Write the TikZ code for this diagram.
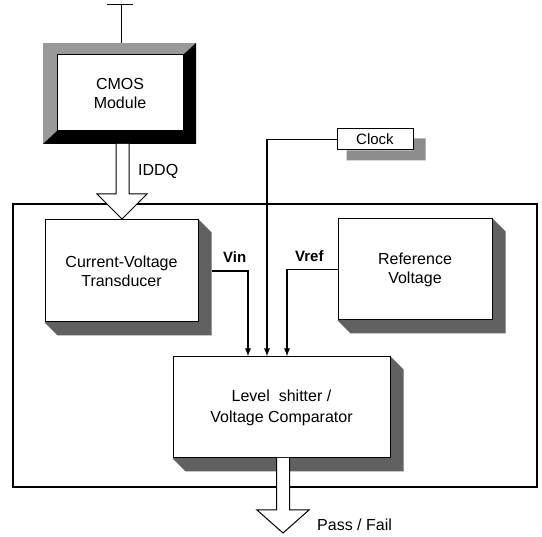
\documentclass[tikz,border=0pt]{standalone}
\usepackage{fontspec}
\setmainfont{Liberation Sans}
\usetikzlibrary{arrows.meta,calc,backgrounds}
\begin{document}
\begin{tikzpicture}[x=1pt,y=-1pt,
  face/.style={draw=black, line width=1pt, fill=white, inner sep=0pt, align=center,
    font=\fontsize{16}{19}\selectfont},
  conn/.style={line width=1.1pt, -{Latex[length=8pt,width=6pt]}},
  lbl/.style={font=\fontsize{15}{18}\selectfont\bfseries, anchor=base west, inner sep=0pt},
  txt/.style={font=\fontsize{16}{19}\selectfont, anchor=base west, inner sep=0pt},
  hollow/.style={draw=black, line width=1pt, fill=white, line join=miter},
  shade3d/.style={fill=black!62},
  frame/.style={draw=black, line width=1.6pt}]
\useasboundingbox (0,0) rectangle (542,537);

% blocks
\node[face, minimum width=126pt, minimum height=76pt] (cmos) at (120,93) {CMOS\\Module};
\node[face, minimum width=153pt, minimum height=102pt] (trans) at (121.5,271) {Current-Voltage\\Transducer};
\node[face, minimum width=154pt, minimum height=101pt] (ref) at (415,269.5) {Reference\\Voltage};
\node[face, minimum width=217pt, minimum height=101pt, font=\fontsize{16}{21}\selectfont] (level) at (281.5,407.5) {Level\ \ shitter /\\Voltage Comparator};
\node[face, minimum width=76pt, minimum height=21pt, font=\fontsize{15}{18}\selectfont] (clock) at (375,139.5) {Clock};

\begin{pgfonlayer}{background}
  % outer frame
  \node[frame, minimum width=524pt, minimum height=283pt, inner sep=0pt] (sys) at (275,345.5) {};
  % CMOS module thick frame
  \fill[black!40] (43,43) rectangle (196,144);
  \fill[black] (196,43) -- (196,144) -- (43,144) -- (57,131) -- (183,131) -- (183,55) -- cycle;
  % 3D shadows
  \foreach \b in {trans,ref,level}{
    \fill[shade3d] (\b.north east) -- ($(\b.north east)+(13,13)$) -- ($(\b.south east)+(13,13)$)
      -- ($(\b.south west)+(13,13)$) -- (\b.south west) -- cycle;
  }
  % clock drop shadow
  \fill[black!45] ($(clock.north east)+(0,10)$) -- ($(clock.north east)+(12,10)$)
     -- ($(clock.south east)+(12,10)$) -- ($(clock.south west)+(10,10)$) -- ($(clock.south west)+(10,0)$)
     -- (clock.south east) -- cycle;
\end{pgfonlayer}

% supply terminal
\coordinate (vdd) at (121,5);
\draw[line width=1pt] (107,5) -- (133,5);
\draw[line width=1pt] (vdd) -- (121,43);

% IDDQ hollow arrow
\draw[hollow] (116,144) -- (116,194) -- (97,194) -- (122,219) -- (147,194) -- (129,194) -- (129,144);
\node[txt] (iddq) at (138,176) {IDDQ};

% Pass / Fail hollow arrow
\draw[hollow] (276.5,458) -- (276.5,510) -- (257,510) -- (283,533) -- (309,510) -- (289.5,510) -- (289.5,458);
\node[txt] (pf) at (317,531) {Pass / Fail};

% signal connectors
\draw[conn] ([xshift=13pt]trans.east) -| ([xshift=-33.5pt]level.north);
\draw[conn] (clock.west) -| ([xshift=-14.5pt]level.north);
\draw[conn] (ref.west) -| ([xshift=5.5pt]level.north);

\node[lbl] (vin) at (223,263) {Vin};
\node[lbl] (vref) at (295,262) {Vref};
\end{tikzpicture}
\end{document}
